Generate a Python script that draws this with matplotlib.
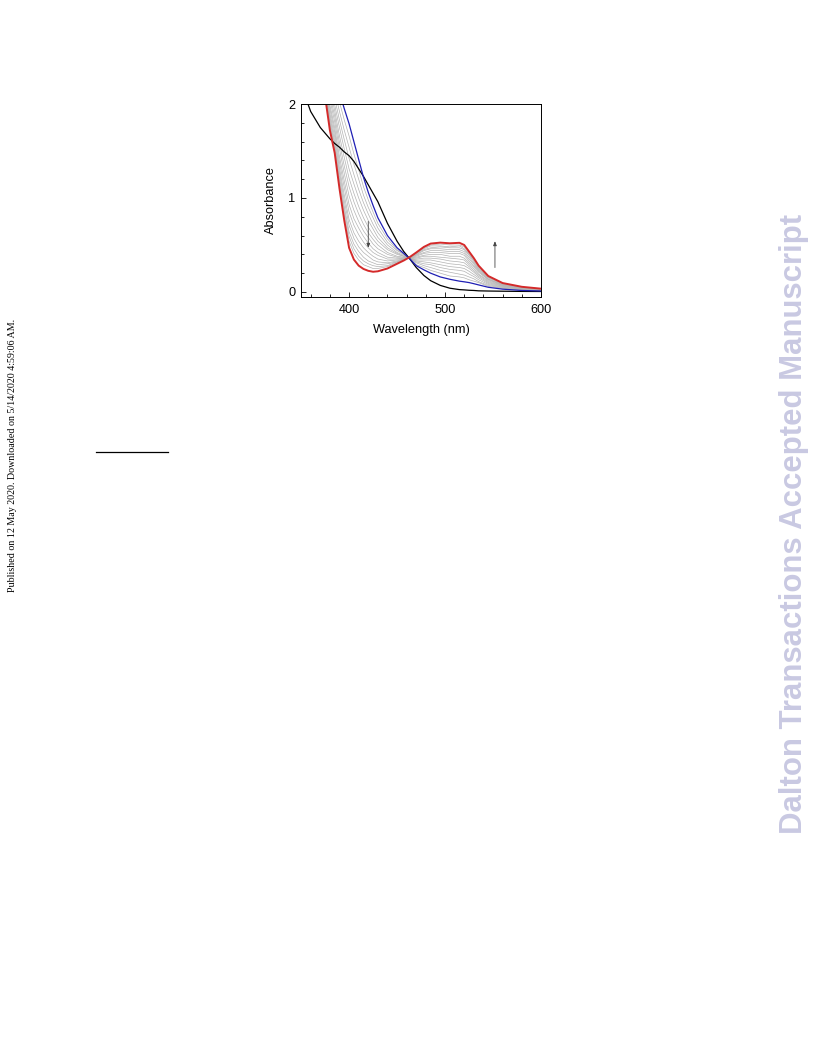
import matplotlib
matplotlib.use("Agg")
import matplotlib.pyplot as plt
from matplotlib.ticker import MultipleLocator
import numpy as np

plt.rcParams['font.family'] = ['Liberation Sans', 'DejaVu Sans']

# ---------- data ----------
wavelength = [350, 360, 370, 375, 380, 385, 390, 395, 400, 405, 410, 415, 420, 425, 430,
              440, 450, 457, 463, 470, 478, 485, 495, 505, 515, 520, 525, 530, 535, 545,
              560, 580, 600]

black_abs = [2.20, 1.92, 1.75, 1.69, 1.63, 1.58, 1.54, 1.49, 1.45, 1.39, 1.31, 1.23, 1.14, 1.05, 0.96,
             0.73, 0.54, 0.43, 0.355, 0.26, 0.175, 0.12, 0.07, 0.04, 0.025, 0.022, 0.018, 0.016, 0.012, 0.010,
             0.008, 0.006, 0.005]
blue_abs = [3.50, 3.20, 2.90, 2.70, 2.50, 2.30, 2.12, 1.95, 1.79, 1.60, 1.41, 1.22, 1.06, 0.92, 0.79,
            0.60, 0.47, 0.41, 0.355, 0.28, 0.235, 0.20, 0.16, 0.135, 0.115, 0.108, 0.10, 0.088, 0.075, 0.05,
            0.03, 0.016, 0.010]
red_abs = [3.00, 2.80, 2.55, 2.08, 1.72, 1.48, 1.10, 0.76, 0.47, 0.345, 0.28, 0.245, 0.225, 0.215, 0.22,
           0.25, 0.30, 0.335, 0.37, 0.42, 0.48, 0.515, 0.525, 0.518, 0.523, 0.50, 0.43, 0.36, 0.28, 0.17,
           0.095, 0.055, 0.035]

# grey titration spectra, one row per wavelength (from 375 nm on), blue side -> red side
grey_wavelength = wavelength[3:]
grey_rows = [
    [2.64, 2.58, 2.53, 2.48, 2.43, 2.38, 2.34, 2.30, 2.26, 2.22, 2.19, 2.16, 2.14, 2.11],  # 375
    [2.42, 2.35, 2.28, 2.22, 2.16, 2.10, 2.05, 1.99, 1.95, 1.90, 1.86, 1.82, 1.79, 1.76],  # 380
    [2.22, 2.14, 2.06, 1.99, 1.93, 1.87, 1.81, 1.75, 1.70, 1.65, 1.60, 1.56, 1.53, 1.50],  # 385
    [2.02, 1.92, 1.83, 1.75, 1.66, 1.59, 1.52, 1.44, 1.38, 1.32, 1.27, 1.22, 1.18, 1.14],  # 390
    [1.83, 1.72, 1.62, 1.52, 1.43, 1.34, 1.26, 1.18, 1.11, 1.03, 0.97, 0.91, 0.87, 0.82],  # 395
    [1.66, 1.54, 1.42, 1.31, 1.21, 1.12, 1.02, 0.93, 0.85, 0.77, 0.71, 0.64, 0.59, 0.54],  # 400
    [1.47, 1.36, 1.25, 1.15, 1.05, 0.96, 0.87, 0.78, 0.71, 0.63, 0.57, 0.51, 0.46, 0.41],  # 405
    [1.30, 1.20, 1.09, 1.00, 0.91, 0.83, 0.75, 0.68, 0.61, 0.54, 0.48, 0.43, 0.38, 0.34],  # 410
    [1.12, 1.03, 0.95, 0.87, 0.79, 0.72, 0.65, 0.59, 0.53, 0.47, 0.42, 0.37, 0.33, 0.29],  # 415
    [0.98, 0.90, 0.83, 0.76, 0.69, 0.63, 0.58, 0.52, 0.47, 0.42, 0.38, 0.33, 0.30, 0.27],  # 420
    [0.85, 0.79, 0.72, 0.67, 0.61, 0.56, 0.51, 0.46, 0.42, 0.38, 0.34, 0.31, 0.28, 0.25],  # 425
    [0.73, 0.68, 0.63, 0.58, 0.54, 0.50, 0.46, 0.42, 0.39, 0.35, 0.32, 0.29, 0.27, 0.25],  # 430
    [0.565, 0.53, 0.50, 0.47, 0.45, 0.42, 0.40, 0.37, 0.35, 0.33, 0.31, 0.30, 0.28, 0.27],  # 440
    [0.45, 0.44, 0.42, 0.41, 0.40, 0.38, 0.37, 0.36, 0.35, 0.34, 0.33, 0.32, 0.32, 0.31],  # 450
    [0.40, 0.40, 0.39, 0.38, 0.38, 0.37, 0.37, 0.36, 0.36, 0.35, 0.35, 0.345, 0.34, 0.34],  # 457
    [0.36, 0.36, 0.36, 0.36, 0.36, 0.36, 0.365, 0.365, 0.365, 0.365, 0.37, 0.37, 0.37, 0.37],  # 463
    [0.29, 0.31, 0.32, 0.33, 0.34, 0.35, 0.36, 0.37, 0.38, 0.39, 0.395, 0.40, 0.41, 0.41],  # 470
    [0.26, 0.28, 0.30, 0.32, 0.34, 0.36, 0.38, 0.39, 0.41, 0.42, 0.44, 0.45, 0.46, 0.47],  # 478
    [0.23, 0.26, 0.29, 0.31, 0.34, 0.36, 0.38, 0.40, 0.42, 0.44, 0.46, 0.47, 0.49, 0.50],  # 485
    [0.20, 0.23, 0.26, 0.29, 0.32, 0.35, 0.37, 0.40, 0.42, 0.44, 0.46, 0.48, 0.49, 0.51],  # 495
    [0.17, 0.21, 0.24, 0.27, 0.30, 0.33, 0.36, 0.38, 0.41, 0.43, 0.45, 0.47, 0.48, 0.50],  # 505
    [0.16, 0.19, 0.23, 0.26, 0.29, 0.32, 0.35, 0.38, 0.41, 0.43, 0.45, 0.47, 0.49, 0.50],  # 515
    [0.15, 0.18, 0.22, 0.25, 0.28, 0.31, 0.34, 0.36, 0.39, 0.41, 0.43, 0.45, 0.46, 0.48],  # 520
    [0.13, 0.16, 0.19, 0.22, 0.25, 0.27, 0.29, 0.31, 0.33, 0.35, 0.37, 0.39, 0.40, 0.41],  # 525
    [0.115, 0.14, 0.164, 0.186, 0.21, 0.227, 0.246, 0.265, 0.28, 0.297, 0.31, 0.325, 0.335, 0.346],  # 530
    [0.10, 0.11, 0.13, 0.15, 0.165, 0.18, 0.19, 0.21, 0.22, 0.23, 0.24, 0.25, 0.26, 0.27],  # 535
    [0.06, 0.07, 0.08, 0.09, 0.10, 0.11, 0.12, 0.13, 0.135, 0.14, 0.15, 0.155, 0.16, 0.165],  # 545
    [0.037, 0.042, 0.048, 0.053, 0.059, 0.063, 0.068, 0.072, 0.076, 0.08, 0.083, 0.087, 0.089, 0.092],  # 560
    [0.02, 0.023, 0.027, 0.03, 0.033, 0.036, 0.039, 0.041, 0.044, 0.046, 0.048, 0.05, 0.051, 0.053],  # 580
    [0.012, 0.015, 0.017, 0.019, 0.021, 0.023, 0.025, 0.026, 0.028, 0.029, 0.03, 0.032, 0.033, 0.034],  # 600
]

# arrows showing the direction of change
arrow_down = (420, 0.78, 0.44)
arrow_up = (552, 0.23, 0.57)

# ---------- figure ----------
fig = plt.figure(figsize=(8.16, 10.56), dpi=100)
ax = fig.add_axes([0.369, 0.7188, 0.294, 0.1827])

grey = np.array(grey_rows).T
for g in grey:
    ax.plot(grey_wavelength, g, color="#b2b2b2", lw=0.5)

ax.plot(wavelength, black_abs, color="black", lw=0.9)
ax.plot(wavelength, blue_abs, color="#1f1fb4", lw=0.9)
ax.plot(wavelength, red_abs, color="#d42a2a", lw=1.4)

for x, y0, y1 in (arrow_down, arrow_up):
    ax.annotate("", xy=(x, y1), xytext=(x, y0),
                arrowprops=dict(arrowstyle="-|>,head_length=0.25,head_width=0.1",
                                color="#444444", lw=0.6))

ax.set_xlim(350, 600)
ax.set_ylim(-0.053, 2.0)
ax.xaxis.set_major_locator(MultipleLocator(100))
ax.xaxis.set_minor_locator(MultipleLocator(20))
ax.yaxis.set_major_locator(MultipleLocator(1))
ax.yaxis.set_minor_locator(MultipleLocator(0.2))
ax.tick_params(which="both", direction="in", labelsize=9.2, width=0.6)
ax.tick_params(which="major", length=3.5)
ax.tick_params(which="minor", length=2)
ax.tick_params(axis="x", which="major", pad=5)
ax.tick_params(axis="y", which="major", pad=4)
for s in ax.spines.values():
    s.set_linewidth(0.7)
ax.set_xlabel("Wavelength (nm)", fontsize=9.2, labelpad=6)
ax.set_ylabel("Absorbance", fontsize=9.2, labelpad=8)

# page furniture
fig.text(0.0155, 0.5687, "Published on 12 May 2020. Downloaded on 5/14/2020 4:59:06 AM.",
         rotation=90, ha="center", va="center", fontsize=7.2, family="Liberation Serif")
fig.text(0.973, 0.504, "Dalton Transactions Accepted Manuscript", rotation=90,
         ha="center", va="center", fontsize=22.4, fontweight="bold", color="#c9c9e2")
fig.add_artist(plt.Line2D([96 / 816, 168 / 816], [1 - 452 / 1056] * 2, color="black", lw=0.9))

fig.savefig("out.png", dpi=100)
